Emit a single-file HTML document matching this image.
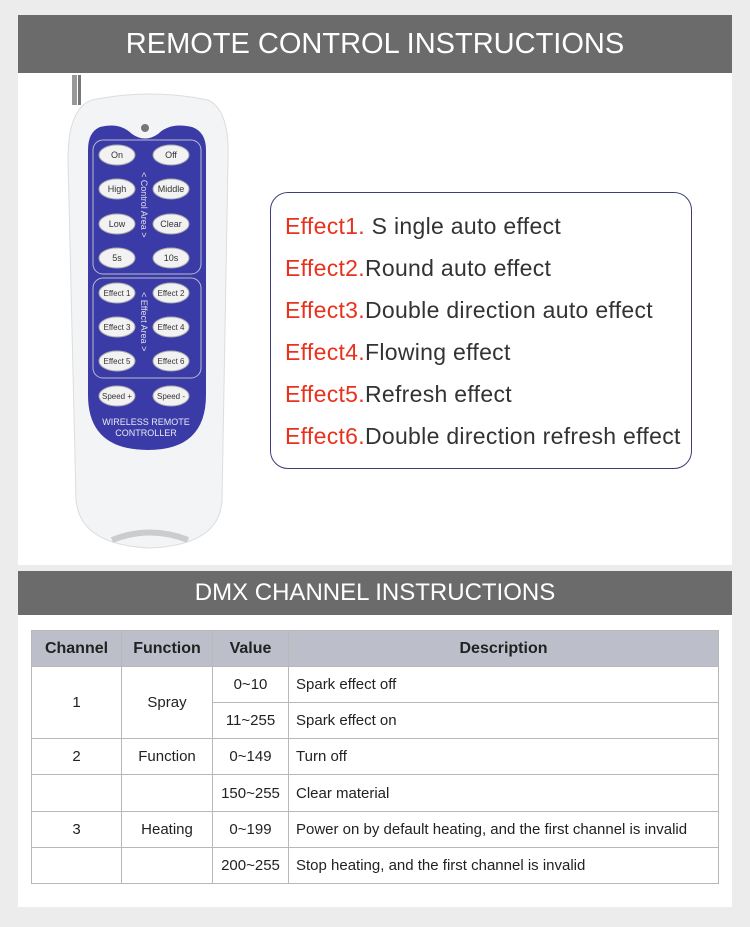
<!DOCTYPE html>
<html><head><meta charset="utf-8"><style>
body{margin:0;width:750px;height:927px;background:#ececec;font-family:"Liberation Sans",sans-serif;position:relative;overflow:hidden}
.hdr{position:absolute;left:18px;width:714px;background:#6b6b6b;color:#fff;text-align:center}
.panel{position:absolute;left:18px;width:714px;background:#fff}
.box{position:absolute;left:270px;top:192px;width:422px;height:277px;border:1.5px solid #3c4174;border-radius:18px;box-sizing:border-box;padding-top:16px}
.box div{font-size:23px;letter-spacing:0.3px;color:#333;height:42px;line-height:34px;padding-left:14px;white-space:nowrap}
.box span{color:#e8321e}
table{position:absolute;left:31px;top:630px;border-collapse:collapse;font-size:15px;color:#222}
td{border:1px solid #b8b8b8;text-align:center;padding:0}
td.d{text-align:left;padding-left:7px}
tr.h td{background:#bcbfca;font-weight:bold;font-size:16px;height:35px}
</style></head><body>
<div class="hdr" style="top:15px;height:58px;line-height:58px;font-size:29px">REMOTE CONTROL INSTRUCTIONS</div>
<div class="panel" style="top:73px;height:492px"></div>
<div class="hdr" style="top:571px;height:44px;line-height:44px;font-size:24px">DMX CHANNEL INSTRUCTIONS</div>
<div class="panel" style="top:615px;height:292px"></div>

<svg style="position:absolute;left:0;top:0" width="260" height="560">
<rect x="72" y="75" width="5" height="30" fill="#999"/><rect x="78" y="75" width="3" height="30" fill="#777"/>
<path d="M92 100 Q150 88 208 100 Q230 110 228 160 L222 500 Q220 545 150 548 Q80 545 76 500 L68 160 Q68 108 92 100Z" fill="#f3f4f6" stroke="#ddd"/>
<path d="M112 540 Q150 525 188 540" stroke="#ccc" stroke-width="6" fill="none"/>
<circle cx="145" cy="128" r="4" fill="#777"/>
<path d="M100 127 Q120 122 132 134 Q145 143 158 134 Q170 122 192 127 Q206 132 206 150 L206 395 Q206 450 148 450 Q88 450 88 395 L88 150 Q88 132 100 127Z" fill="#3b3ba8"/>
<rect x="93" y="140" width="108" height="134" rx="10" fill="none" stroke="#bbc" stroke-width="1"/>
<rect x="93" y="278" width="108" height="100" rx="10" fill="none" stroke="#bbc" stroke-width="1"/>
<g fill="#f2f2f2" stroke="#aaa" font-size="9" text-anchor="middle">
<ellipse cx="117" cy="155" rx="18" ry="10"/><ellipse cx="171" cy="155" rx="18" ry="10"/>
<ellipse cx="117" cy="189" rx="18" ry="10"/><ellipse cx="171" cy="189" rx="18" ry="10"/>
<ellipse cx="117" cy="224" rx="18" ry="10"/><ellipse cx="171" cy="224" rx="18" ry="10"/>
<ellipse cx="117" cy="258" rx="18" ry="10"/><ellipse cx="171" cy="258" rx="18" ry="10"/>
<ellipse cx="117" cy="293" rx="18" ry="10"/><ellipse cx="171" cy="293" rx="18" ry="10"/>
<ellipse cx="117" cy="327" rx="18" ry="10"/><ellipse cx="171" cy="327" rx="18" ry="10"/>
<ellipse cx="117" cy="361" rx="18" ry="10"/><ellipse cx="171" cy="361" rx="18" ry="10"/>
<ellipse cx="117" cy="396" rx="18" ry="10"/><ellipse cx="171" cy="396" rx="18" ry="10"/>
</g>
<g fill="#333" font-size="9" text-anchor="middle">
<text x="117" y="158">On</text><text x="171" y="158">Off</text>
<text x="117" y="192">High</text><text x="171" y="192">Middle</text>
<text x="117" y="227">Low</text><text x="171" y="227">Clear</text>
<text x="117" y="261">5s</text><text x="171" y="261">10s</text>
<g font-size="8"><text x="117" y="296">Effect 1</text><text x="171" y="296">Effect 2</text>
<text x="117" y="330">Effect 3</text><text x="171" y="330">Effect 4</text>
<text x="117" y="364">Effect 5</text><text x="171" y="364">Effect 6</text>
<text x="117" y="399">Speed +</text><text x="171" y="399">Speed -</text></g>
</g>
<text transform="translate(141,172) rotate(90)" fill="#dde" font-size="9">&lt; Control Area &gt;</text>
<text transform="translate(141,292) rotate(90)" fill="#dde" font-size="9">&lt; Effect Area &gt;</text>
<text x="146" y="425" fill="#e8e8f4" font-size="9" text-anchor="middle">WIRELESS REMOTE</text>
<text x="146" y="436" fill="#e8e8f4" font-size="9" text-anchor="middle">CONTROLLER</text>
</svg>

<div class="box">
<div><span>Effect1.</span> S ingle auto effect</div>
<div><span>Effect2.</span>Round auto effect</div>
<div><span>Effect3.</span>Double direction auto effect</div>
<div><span>Effect4.</span>Flowing effect</div>
<div><span>Effect5.</span>Refresh effect</div>
<div><span>Effect6.</span>Double direction refresh effect</div>
</div>

<table>
<colgroup><col style="width:90px"><col style="width:91px"><col style="width:76px"><col style="width:430px"></colgroup>
<tr class="h"><td>Channel</td><td>Function</td><td>Value</td><td>Description</td></tr>
<tr style="height:36px"><td rowspan="2">1</td><td rowspan="2">Spray</td><td>0~10</td><td class="d">Spark effect off</td></tr>
<tr style="height:36px"><td>11~255</td><td class="d">Spark effect on</td></tr>
<tr style="height:36px"><td>2</td><td>Function</td><td>0~149</td><td class="d">Turn off</td></tr>
<tr style="height:37px"><td></td><td></td><td>150~255</td><td class="d">Clear material</td></tr>
<tr style="height:36px"><td>3</td><td>Heating</td><td>0~199</td><td class="d">Power on by default heating, and the first channel  is invalid</td></tr>
<tr style="height:36px"><td></td><td></td><td>200~255</td><td class="d">Stop heating, and the first channel is invalid</td></tr>
</table>
</body></html>
